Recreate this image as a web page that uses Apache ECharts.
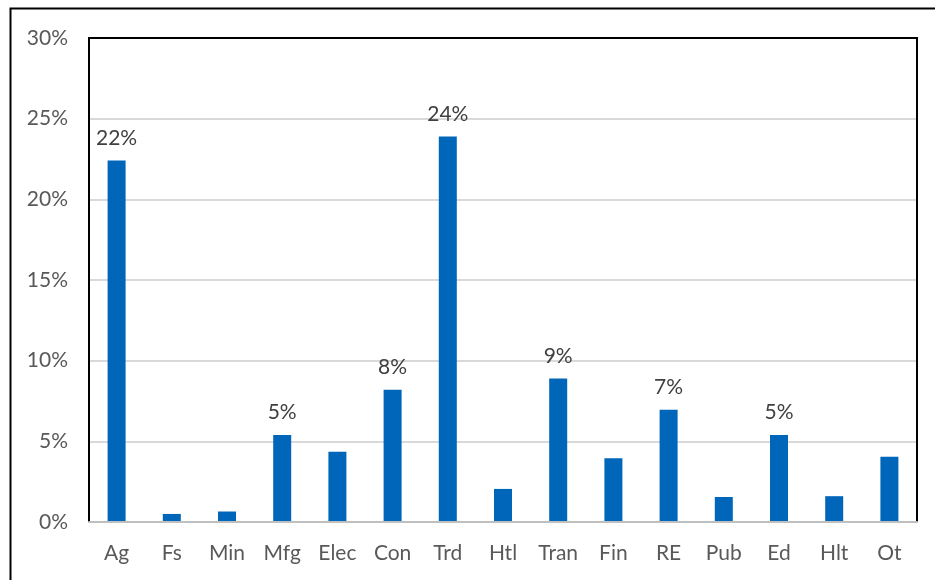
<!DOCTYPE html>
<html>
<head>
<meta charset="utf-8">
<script src="https://cdn.jsdelivr.net/npm/echarts@6/dist/echarts.min.js"></script>
<style>
  html, body { margin: 0; padding: 0; background: #fff; }
  #chart { width: 935px; height: 580px; }
</style>
</head>
<body>
<div id="chart"></div>
<script>
// Sector categories along the x axis
const categories = ['Ag', 'Fs', 'Min', 'Mfg', 'Elec', 'Con', 'Trd', 'Htl', 'Tran', 'Fin', 'RE', 'Pub', 'Ed', 'Hlt', 'Ot'];
// Share of each sector (percent)
const shares = [22.4, 0.5, 0.65, 5.4, 4.35, 8.2, 23.9, 2.05, 8.9, 3.95, 6.95, 1.55, 5.4, 1.6, 4.05];
// Sectors whose bar carries a value label
const labelled = ['Ag', 'Mfg', 'Con', 'Trd', 'Tran', 'RE', 'Ed'];
// Y axis range and step (percent)
const yMin = 0, yMax = 30, yStep = 5;

const FONT = 'Lato, "Open Sans", sans-serif';
const GRID = { left: 89, right: 18, top: 38, bottom: 58 };
const W = 935, H = 580;
const chart = echarts.init(document.getElementById('chart'), null, { renderer: 'canvas' });

chart.setOption({
  animation: false,
  backgroundColor: '#ffffff',
  graphic: [{
    // outer frame around the figure
    type: 'rect',
    shape: { x: 10.5, y: 8.5, width: 940, height: 600 },
    style: { fill: 'none', stroke: '#000', lineWidth: 2 },
    silent: true
  }, {
    // plot-area frame: left, top and right edges
    type: 'polyline',
    z: 100,
    shape: {
      points: [
        [GRID.left, H - GRID.bottom],
        [GRID.left, GRID.top],
        [W - GRID.right, GRID.top],
        [W - GRID.right, H - GRID.bottom]
      ]
    },
    style: { fill: 'none', stroke: '#000', lineWidth: 2 },
    silent: true
  }],
  grid: GRID,
  xAxis: {
    type: 'category',
    data: categories,
    z: 120,
    axisLine: { show: true, lineStyle: { color: '#bfbfbf', width: 2 } },
    axisTick: { show: false },
    axisLabel: { color: '#595959', fontSize: 21, fontFamily: FONT, margin: 21 }
  },
  yAxis: {
    type: 'value',
    min: yMin, max: yMax, interval: yStep,
    axisLine: { show: false },
    axisTick: { show: false },
    splitLine: { show: true, lineStyle: { color: '#d9d9d9', width: 2 } },
    axisLabel: { color: '#595959', fontSize: 21, fontFamily: FONT, margin: 21, formatter: v => v + '%' }
  },
  series: [{
    type: 'bar',
    data: shares.map((v, i) => ({
      value: v,
      label: { show: labelled.includes(categories[i]) }
    })),
    barWidth: 18,
    itemStyle: { color: '#0066b9' },
    label: {
      position: 'top',
      distance: 12,
      color: '#404040',
      fontSize: 21,
      fontFamily: FONT,
      formatter: p => Math.round(p.value) + '%'
    }
  }]
});
</script>
</body>
</html>
